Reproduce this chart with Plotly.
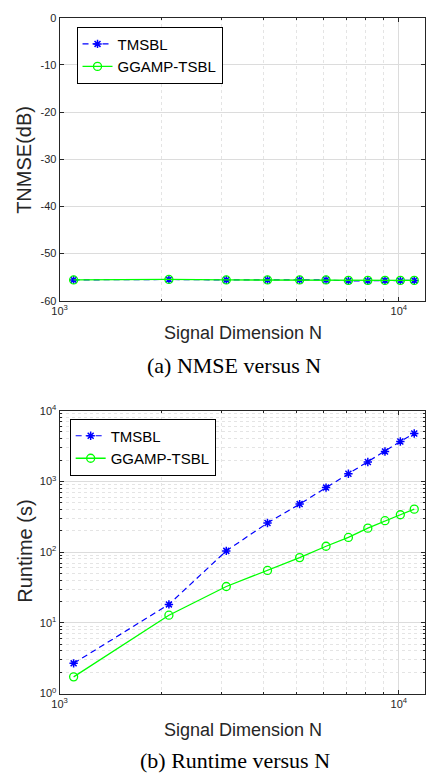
import math
import plotly.graph_objects as go

# ---- data ----
N = [1100, 2100, 3100, 4100, 5100, 6100, 7100, 8100, 9100, 10100, 11100]
nmse_tmsbl = [-55.6, -55.5, -55.6, -55.6, -55.6, -55.6, -55.8, -55.8, -55.7, -55.8, -55.7]
nmse_ggamp = [-55.6, -55.5, -55.6, -55.6, -55.6, -55.6, -55.7, -55.7, -55.7, -55.7, -55.7]
rt_tmsbl = [2.67, 18.2, 104, 258, 477, 817, 1279, 1879, 2650, 3670, 4745]
rt_ggamp = [1.72, 12.8, 32.6, 55, 83.5, 121, 161, 218, 278, 337, 405]

x_major = [1000, 10000]
x_major_text = ["10<sup>3</sup>", "10<sup>4</sup>"]
x_minor = [2000, 3000, 4000, 5000, 6000, 7000, 8000, 9000]
nmse_ticks = [0, -10, -20, -30, -40, -50, -60]
nmse_tick_text = ["0", "-10", "-20", "-30", "-40", "-50", "-60"]
rt_major = [1, 10, 100, 1000, 10000]
rt_major_text = ["10<sup>0</sup>", "10<sup>1</sup>", "10<sup>2</sup>", "10<sup>3</sup>", "10<sup>4</sup>"]
rt_minor = [m * 10 ** k for k in range(4) for m in range(2, 10)]

W, H = 426, 782
AX = "#262626"
MAJ = "#dcdcdc"
MIN = "#e4e4e4"
FONT = "Liberation Sans, Arial, sans-serif"
SERIF = "Liberation Serif, Times New Roman, serif"

def py(pix):
    return 1 - pix / H

x_left = 52.7 / W
xrange_log = [3, math.log10(11940)]

fig = go.Figure()

tm_line = dict(color="#0000ff", width=1.2, dash="6px,4px")
tm_marker = dict(symbol="asterisk-open", size=7, line=dict(color="#0000ff", width=1.5), color="#0000ff")
gg_line = dict(color="#00ff00", width=1.3)
gg_marker = dict(symbol="circle-open", size=8, line=dict(color="#00ff00", width=1.3), color="#00ff00")

fig.add_trace(go.Scatter(x=N, y=nmse_tmsbl, name="TMSBL", mode="lines+markers",
                         line=tm_line, marker=tm_marker, xaxis="x", yaxis="y", legend="legend"))
fig.add_trace(go.Scatter(x=N, y=nmse_ggamp, name="GGAMP-TSBL", mode="lines+markers",
                         line=gg_line, marker=gg_marker, xaxis="x", yaxis="y", legend="legend"))
fig.add_trace(go.Scatter(x=N, y=rt_tmsbl, name="TMSBL", mode="lines+markers",
                         line=tm_line, marker=tm_marker, xaxis="x2", yaxis="y2", legend="legend2"))
fig.add_trace(go.Scatter(x=N, y=rt_ggamp, name="GGAMP-TSBL", mode="lines+markers",
                         line=gg_line, marker=gg_marker, xaxis="x2", yaxis="y2", legend="legend2"))

common_axis = dict(showline=True, linecolor=AX, linewidth=1, mirror="allticks",
                   ticks="inside", ticklen=4, tickcolor=AX, zeroline=False,
                   tickfont=dict(family=FONT, size=11, color=AX))

def xaxis(anchor):
    return dict(common_axis, type="log", range=xrange_log, domain=[x_left, 1], anchor=anchor,
                tickmode="array", tickvals=x_major, ticktext=x_major_text,
                showgrid=True, gridcolor=MAJ, gridwidth=1,
                minor=dict(tickmode="array", tickvals=x_minor, ticks="inside", ticklen=2,
                           tickcolor=AX, showgrid=True, gridcolor=MIN, griddash="dot", gridwidth=1))

legend_style = dict(xanchor="left", yanchor="top", bgcolor="white", bordercolor="black",
                    borderwidth=1, font=dict(family=FONT, size=15, color="black"),
                    itemwidth=30, tracegroupgap=0)

fig.update_layout(
    width=W, height=H, margin=dict(l=0, r=0, t=0, b=0),
    paper_bgcolor="white", plot_bgcolor="white",
    xaxis=xaxis("y"),
    yaxis=dict(common_axis, range=[-60, 0], domain=[py(298), py(10)], anchor="x",
               tickmode="array", tickvals=nmse_ticks, ticktext=nmse_tick_text,
               showgrid=True, gridcolor=MAJ, gridwidth=1),
    xaxis2=xaxis("y2"),
    yaxis2=dict(common_axis, type="log", range=[0, 4], domain=[py(698), py(410)], anchor="x2",
                tickmode="array", tickvals=rt_major, ticktext=rt_major_text,
                showgrid=True, gridcolor=MAJ, gridwidth=1,
                minor=dict(tickmode="array", tickvals=rt_minor, ticks="inside", ticklen=2,
                           tickcolor=AX, showgrid=True, gridcolor=MIN, griddash="dot", gridwidth=1)),
    legend=dict(legend_style, x=70 / W, y=py(19)),
    legend2=dict(legend_style, x=63 / W, y=py(418)),
    showlegend=True,
)

annos = [
    dict(text="TNMSE(dB)", x=17 / W, y=py(155), textangle=-90, font=dict(family=FONT, size=20, color=AX)),
    dict(text="Signal Dimension N", x=240 / W, y=py(331), font=dict(family=FONT, size=18, color=AX)),
    dict(text="(a) NMSE versus N", x=231 / W, y=py(364), font=dict(family=SERIF, size=22, color="black")),
    dict(text="Runtime (s)", x=17 / W, y=py(553), textangle=-90, font=dict(family=FONT, size=20, color=AX)),
    dict(text="Signal Dimension N", x=240 / W, y=py(735), font=dict(family=FONT, size=18, color=AX)),
    dict(text="(b) Runtime versus N", x=232 / W, y=py(766), font=dict(family=SERIF, size=22, color="black")),
]
for a in annos:
    fig.add_annotation(dict(a, xref="paper", yref="paper", showarrow=False,
                            xanchor="center", yanchor="middle"))

fig.write_html("out.html")
